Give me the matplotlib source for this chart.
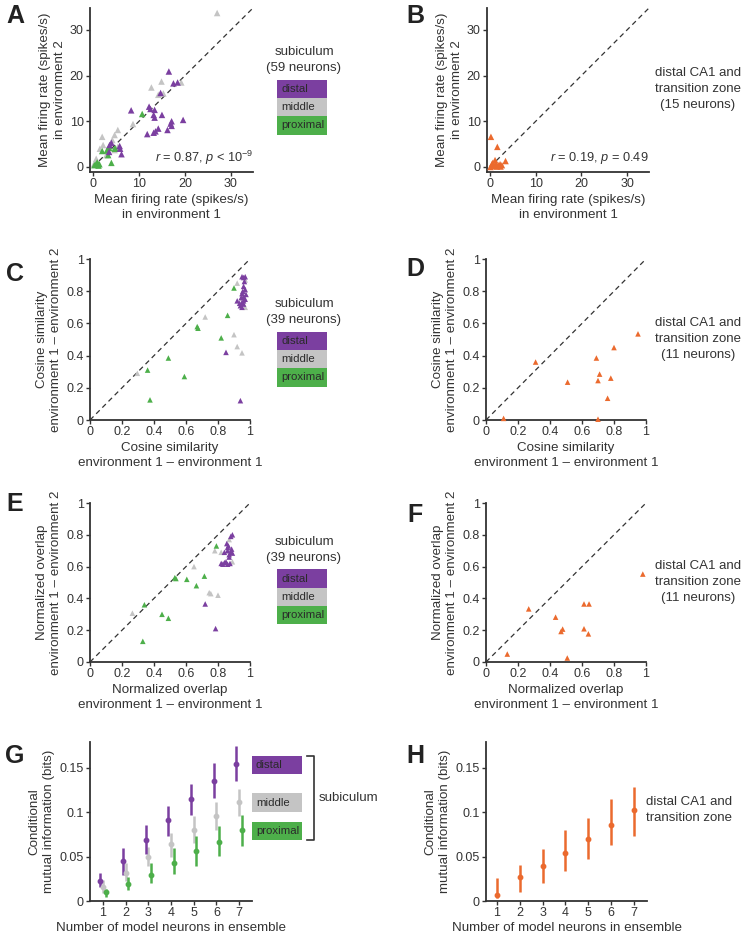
import matplotlib
matplotlib.use("Agg")
import matplotlib.pyplot as plt
from matplotlib.patches import Rectangle
from matplotlib.lines import Line2D
import numpy as np

plt.rcParams['font.family'] = ['Liberation Sans', 'DejaVu Sans']
plt.rcParams['mathtext.fontset'] = 'custom'
plt.rcParams['mathtext.rm'] = 'Liberation Sans'
plt.rcParams['mathtext.it'] = 'Liberation Sans:italic'
plt.rcParams['font.size'] = 9

LAB = 9.6      # axis label size
TICK = 9.0     # tick label size
SIDE = 9.5     # side text size
BOX = 8.2      # legend box text size
LSP = 1.3      # label line spacing

# ---------------- colours ----------------
C_DIST = '#7B3FA0'
C_MID = '#C4C4C4'
C_PROX = '#4DAF4A'
C_CA1 = '#EB6A2E'
C_TXT = '#333333'

# ---------------- data ----------------
# Panel A: mean firing rate env1 vs env2 (subiculum)
a_dist_x = [16.5, 17.5, 18.4, 14.7, 8.3, 12.2, 12.5, 13.4, 13.2, 13.4, 15.0, 17.1, 16.9, 17.1, 19.6,
            11.8, 13.2, 13.6, 14.2, 16.2, 4.0, 3.6, 5.8, 6.2, 3.5, 5.9]
a_dist_y = [20.9, 18.3, 18.5, 16.2, 12.4, 13.2, 12.7, 12.5, 11.4, 10.8, 11.4, 10.0, 9.5, 9.0, 10.3,
            7.2, 7.5, 7.8, 8.4, 8.1, 5.3, 4.8, 4.6, 2.8, 3.3, 4.0]
a_mid_x = [27.0, 12.7, 14.9, 19.2, 14.2, 15.3, 8.7, 5.4, 4.7, 2.0, 4.2, 2.2, 5.4, 4.7, 2.9, 0.7, 0.2, 1.5]
a_mid_y = [33.7, 17.4, 18.7, 18.5, 15.8, 16.1, 9.4, 8.1, 7.0, 6.6, 5.9, 4.8, 4.4, 3.7, 2.6, 1.8, 0.6, 4.0]
a_prox_x = [10.7, 2.0, 3.5, 3.6, 4.7, 4.0, 0.6, 1.0, 1.4, 0.9, 3.3, 4.9, 0.3, 1.2, 3.0]
a_prox_y = [11.6, 3.5, 4.2, 4.6, 4.0, 0.9, 0.5, 0.8, 0.6, 1.0, 2.6, 4.0, 0.4, 0.3, 3.6]

# Panel B: distal CA1 and transition zone
b_x = [0.2, 1.6, 1.1, 3.4, 0.4, 0.7, 1.3, 1.8, 2.2, 2.3, 0.1, 0.6, 1.5, 2.6, 0.9]
b_y = [6.6, 4.4, 1.5, 1.3, 0.6, 0.4, 0.7, 0.4, 0.6, 0.1, 0.0, 0.9, 0.1, 0.4, 0.2]

# Panel C: cosine similarity (subiculum)
c_prox_x = [0.90, 0.86, 0.67, 0.675, 0.82, 0.49, 0.36, 0.59, 0.375]
c_prox_y = [0.82, 0.65, 0.58, 0.57, 0.51, 0.385, 0.31, 0.27, 0.125]
c_mid_x = [0.92, 0.72, 0.90, 0.92, 0.95, 0.296, 0.97, 0.97, 0.955]
c_mid_y = [0.85, 0.64, 0.53, 0.456, 0.417, 0.29, 0.70, 0.87, 0.76]
c_dist_x = [0.95, 0.96, 0.97, 0.96, 0.97, 0.95, 0.96, 0.92, 0.95, 0.96, 0.94, 0.95, 0.97, 0.975,
            0.85, 0.94, 0.955, 0.965, 0.945, 0.935, 0.96]
c_dist_y = [0.89, 0.885, 0.89, 0.83, 0.81, 0.785, 0.765, 0.74, 0.73, 0.72, 0.71, 0.70, 0.75, 0.78,
            0.42, 0.12, 0.80, 0.86, 0.76, 0.725, 0.74]

# Panel D: cosine similarity (distal CA1)
d_x = [0.11, 0.31, 0.51, 0.69, 0.70, 0.71, 0.78, 0.76, 0.80, 0.95, 0.70]
d_y = [0.01, 0.36, 0.235, 0.385, 0.245, 0.285, 0.26, 0.135, 0.45, 0.535, 0.005]

# Panel E: normalized overlap (subiculum)
e_prox_x = [0.79, 0.537, 0.53, 0.605, 0.715, 0.665, 0.34, 0.45, 0.49, 0.33]
e_prox_y = [0.73, 0.525, 0.53, 0.52, 0.54, 0.48, 0.36, 0.30, 0.275, 0.13]
e_mid_x = [0.65, 0.745, 0.755, 0.80, 0.265, 0.78, 0.82, 0.89, 0.87]
e_mid_y = [0.60, 0.436, 0.43, 0.42, 0.307, 0.70, 0.69, 0.63, 0.77]
e_dist_x = [0.89, 0.88, 0.855, 0.865, 0.84, 0.86, 0.88, 0.89, 0.87, 0.82, 0.84, 0.86, 0.875,
            0.85, 0.72, 0.785, 0.885, 0.87, 0.83, 0.86]
e_dist_y = [0.80, 0.79, 0.745, 0.73, 0.69, 0.70, 0.69, 0.685, 0.66, 0.62, 0.625, 0.615, 0.62,
            0.63, 0.365, 0.21, 0.71, 0.675, 0.615, 0.72]

# Panel F: normalized overlap (distal CA1)
f_x = [0.133, 0.267, 0.435, 0.469, 0.479, 0.508, 0.6125, 0.644, 0.6125, 0.64, 0.98]
f_y = [0.05, 0.334, 0.282, 0.192, 0.207, 0.025, 0.365, 0.365, 0.209, 0.177, 0.553]

# Panel G/H: conditional mutual information
ens_n = [1, 2, 3, 4, 5, 6, 7]
g_dist = [0.0226, 0.0445, 0.069, 0.091, 0.115, 0.135, 0.154]
g_dist_lo = [0.016, 0.029, 0.053, 0.073, 0.097, 0.116, 0.135]
g_dist_hi = [0.032, 0.0596, 0.085, 0.107, 0.132, 0.155, 0.174]
g_mid = [0.016, 0.032, 0.050, 0.064, 0.080, 0.096, 0.112]
g_mid_lo = [0.009, 0.022, 0.039, 0.050, 0.065, 0.080, 0.096]
g_mid_hi = [0.024, 0.043, 0.061, 0.076, 0.096, 0.112, 0.126]
g_prox = [0.0098, 0.019, 0.029, 0.0426, 0.0565, 0.066, 0.080]
g_prox_lo = [0.005, 0.012, 0.020, 0.030, 0.0396, 0.051, 0.062]
g_prox_hi = [0.014, 0.0275, 0.0426, 0.0596, 0.0735, 0.084, 0.097]
h_ca1 = [0.0068, 0.0268, 0.0396, 0.0539, 0.0697, 0.086, 0.102]
h_ca1_lo = [0.003, 0.0106, 0.0207, 0.034, 0.0475, 0.0626, 0.0735]
h_ca1_hi = [0.0256, 0.0407, 0.0584, 0.0795, 0.094, 0.115, 0.128]

# ---------------- figure ----------------
W, H = 751, 941
fig = plt.figure(figsize=(W / 100, H / 100), dpi=100)


def add_ax(l, t, r, b):
    return fig.add_axes([l / W, 1 - b / H, (r - l) / W, (b - t) / H])


def style(ax):
    for s in ['top', 'right']:
        ax.spines[s].set_visible(False)
    for s in ['left', 'bottom']:
        ax.spines[s].set_linewidth(1.3)
        ax.spines[s].set_color(C_TXT)
    ax.tick_params(direction='out', length=3, width=1.0, colors=C_TXT,
                   labelsize=TICK, pad=1.5)


def fx(x):
    return x / W


def fy(y):
    return 1 - y / H


def ftext(x, y, s, **kw):
    kw.setdefault('fontsize', SIDE)
    kw.setdefault('color', C_TXT)
    fig.text(fx(x), fy(y), s, **kw)


def tri(ax, x, y, c, s=16):
    ax.scatter(x, y, marker='^', s=s, color=c, edgecolors='none', clip_on=False, zorder=3)


def diag(ax, hi):
    ax.plot([0, hi], [0, hi], ls=(0, (4, 3)), color='#333333', lw=0.9, zorder=1)


def labels(ax, xl, yl):
    ax.set_xlabel(xl, color=C_TXT, labelpad=3, linespacing=LSP, fontsize=LAB)
    ax.set_ylabel(yl, color=C_TXT, labelpad=3, linespacing=LSP, fontsize=LAB)


def legend_boxes(x0, x1, ys):
    names = ['distal', 'middle', 'proximal']
    cols = [C_DIST, C_MID, C_PROX]
    for (t, b), n, c in zip(ys, names, cols):
        fig.add_artist(Rectangle((fx(x0), fy(b)), (x1 - x0) / W, (b - t) / H,
                                 transform=fig.transFigure, facecolor=c, edgecolor='none'))
        ftext(x0 + 4, (t + b) / 2, n, ha='left', va='center', color='#2a2a2a', fontsize=BOX)


def panel_letter(x, y, s):
    ftext(x, y, s, fontsize=18, fontweight='bold', color='#222222', ha='center', va='center')


fr_ticks = [0, 10, 20, 30]
frac_ticks = [0, 0.2, 0.4, 0.6, 0.8, 1]
frac_labels = ['0', '0.2', '0.4', '0.6', '0.8', '1']
FR_X = 'Mean firing rate (spikes/s)\nin environment 1'
FR_Y = 'Mean firing rate (spikes/s)\nin environment 2'
CS_X = 'Cosine similarity\nenvironment 1 \u2013 environment 1'
CS_Y = 'Cosine similarity\nenvironment 1 \u2013 environment 2'
NO_X = 'Normalized overlap\nenvironment 1 \u2013 environment 1'
NO_Y = 'Normalized overlap\nenvironment 1 \u2013 environment 2'

# ----- A -----
axA = add_ax(90, 8, 253, 172)
style(axA)
diag(axA, 35)
tri(axA, a_mid_x, a_mid_y, C_MID, 22)
tri(axA, a_prox_x, a_prox_y, C_PROX, 22)
tri(axA, a_dist_x, a_dist_y, C_DIST, 22)
axA.set_xlim(-0.65, 34.8)
axA.set_ylim(-1.1, 34.8)
axA.set_xticks(fr_ticks)
axA.set_yticks(fr_ticks)
labels(axA, FR_X, FR_Y)
axA.text(1.0, 0.085, r'$r$ = 0.87, $p$ < 10$^{-9}$', transform=axA.transAxes,
         ha='right', va='center', color=C_TXT, fontsize=9.2)
ftext(304, 52, 'subiculum', ha='center', va='center')
ftext(304, 68, '(59 neurons)', ha='center', va='center')
legend_boxes(277, 327, [(80, 98), (98, 116), (116, 135)])
panel_letter(15, 16, 'A')

# ----- B -----
axB = add_ax(487, 8, 649, 172)
style(axB)
diag(axB, 35)
tri(axB, b_x, b_y, C_CA1, 22)
axB.set_xlim(-0.66, 34.8)
axB.set_ylim(-1.1, 34.8)
axB.set_xticks(fr_ticks)
axB.set_yticks(fr_ticks)
labels(axB, FR_X, FR_Y)
axB.text(1.0, 0.085, r'$r$ = 0.19, $p$ = 0.49', transform=axB.transAxes,
         ha='right', va='center', color=C_TXT, fontsize=9.2)
ftext(698, 73, 'distal CA1 and', ha='center', va='center')
ftext(698, 89, 'transition zone', ha='center', va='center')
ftext(698, 105, '(15 neurons)', ha='center', va='center')
panel_letter(415, 16, 'B')

# ----- C -----
axC = add_ax(90, 259, 250, 420)
style(axC)
diag(axC, 1)
tri(axC, c_mid_x, c_mid_y, C_MID)
tri(axC, c_prox_x, c_prox_y, C_PROX)
tri(axC, c_dist_x, c_dist_y, C_DIST)
axC.set_xlim(0, 1)
axC.set_ylim(0, 1)
axC.set_xticks(frac_ticks, frac_labels)
axC.set_yticks(frac_ticks, frac_labels)
labels(axC, CS_X, CS_Y)
ftext(304, 304, 'subiculum', ha='center', va='center')
ftext(304, 320, '(39 neurons)', ha='center', va='center')
legend_boxes(277, 327, [(332, 350), (350, 368), (368, 387)])
panel_letter(15, 274, 'C')

# ----- D -----
axD = add_ax(486, 259, 646, 420)
style(axD)
diag(axD, 1)
tri(axD, d_x, d_y, C_CA1)
axD.set_xlim(0, 1)
axD.set_ylim(0, 1)
axD.set_xticks(frac_ticks, frac_labels)
axD.set_yticks(frac_ticks, frac_labels)
labels(axD, CS_X, CS_Y)
ftext(698, 323, 'distal CA1 and', ha='center', va='center')
ftext(698, 339, 'transition zone', ha='center', va='center')
ftext(698, 355, '(11 neurons)', ha='center', va='center')
panel_letter(415, 269, 'D')

# ----- E -----
axE = add_ax(90, 503, 250, 662)
style(axE)
diag(axE, 1)
tri(axE, e_mid_x, e_mid_y, C_MID)
tri(axE, e_prox_x, e_prox_y, C_PROX)
tri(axE, e_dist_x, e_dist_y, C_DIST)
axE.set_xlim(0, 1)
axE.set_ylim(0, 1)
axE.set_xticks(frac_ticks, frac_labels)
axE.set_yticks(frac_ticks, frac_labels)
labels(axE, NO_X, NO_Y)
ftext(304, 542, 'subiculum', ha='center', va='center')
ftext(304, 558, '(39 neurons)', ha='center', va='center')
legend_boxes(277, 327, [(569, 588), (588, 606), (606, 624)])
panel_letter(15, 504, 'E')

# ----- F -----
axF = add_ax(486, 503, 646, 662)
style(axF)
diag(axF, 1)
tri(axF, f_x, f_y, C_CA1)
axF.set_xlim(0, 1)
axF.set_ylim(0, 1)
axF.set_xticks(frac_ticks, frac_labels)
axF.set_yticks(frac_ticks, frac_labels)
labels(axF, NO_X, NO_Y)
ftext(698, 566, 'distal CA1 and', ha='center', va='center')
ftext(698, 582, 'transition zone', ha='center', va='center')
ftext(698, 598, '(11 neurons)', ha='center', va='center')
panel_letter(415, 515, 'F')


# ----- G -----
def ebar(ax, x, y, lo, hi, c, off):
    xx = np.array(x) + off
    y = np.array(y)
    yerr = [y - np.array(lo), np.array(hi) - y]
    ax.errorbar(xx, y, yerr=yerr, fmt='o', ms=3.2, color=c, ecolor=c, elinewidth=1.8,
                capsize=0, mec=c, mfc=c, clip_on=False, zorder=3)


MI_Y = 'Conditional\nmutual information (bits)'
MI_X = 'Number of model neurons in ensemble'

axG = add_ax(90, 742, 252, 901)
style(axG)
ebar(axG, ens_n, g_mid, g_mid_lo, g_mid_hi, C_MID, 0.0)
ebar(axG, ens_n, g_prox, g_prox_lo, g_prox_hi, C_PROX, 0.12)
ebar(axG, ens_n, g_dist, g_dist_lo, g_dist_hi, C_DIST, -0.12)
axG.set_xlim(0.43, 7.57)
axG.set_ylim(0, 0.179)
axG.set_xticks(ens_n)
axG.set_yticks([0, 0.05, 0.1, 0.15], ['0', '0.05', '0.1', '0.15'])
axG.set_xlabel(MI_X, color=C_TXT, labelpad=2, fontsize=LAB)
axG.set_ylabel(MI_Y, color=C_TXT, labelpad=3, linespacing=LSP, fontsize=LAB)
for (t, b), n, c in zip([(756, 774), (793, 812), (822, 840)], ['distal', 'middle', 'proximal'],
                        [C_DIST, C_MID, C_PROX]):
    fig.add_artist(Rectangle((fx(252), fy(b)), 50 / W, (b - t) / H,
                             transform=fig.transFigure, facecolor=c, edgecolor='none'))
    ftext(256, (t + b) / 2, n, ha='left', va='center', color='#2a2a2a', fontsize=BOX)
fig.add_artist(Line2D([fx(307), fx(314), fx(314), fx(307)], [fy(756), fy(756), fy(840), fy(840)],
                      transform=fig.transFigure, color=C_TXT, lw=1.2))
ftext(319, 798, 'subiculum', ha='left', va='center')
panel_letter(15, 756, 'G')

# ----- H -----
axH = add_ax(486, 742, 647, 901)
style(axH)
ebar(axH, ens_n, h_ca1, h_ca1_lo, h_ca1_hi, C_CA1, 0.0)
axH.set_xlim(0.52, 7.57)
axH.set_ylim(0, 0.179)
axH.set_xticks(ens_n)
axH.set_yticks([0, 0.05, 0.1, 0.15], ['0', '0.05', '0.1', '0.15'])
axH.set_xlabel(MI_X, color=C_TXT, labelpad=2, fontsize=LAB)
axH.set_ylabel(MI_Y, color=C_TXT, labelpad=3, linespacing=LSP, fontsize=LAB)
ftext(689, 802, 'distal CA1 and', ha='center', va='center')
ftext(689, 818, 'transition zone', ha='center', va='center')
panel_letter(415, 756, 'H')

fig.savefig('out.png', dpi=100, facecolor='white')
